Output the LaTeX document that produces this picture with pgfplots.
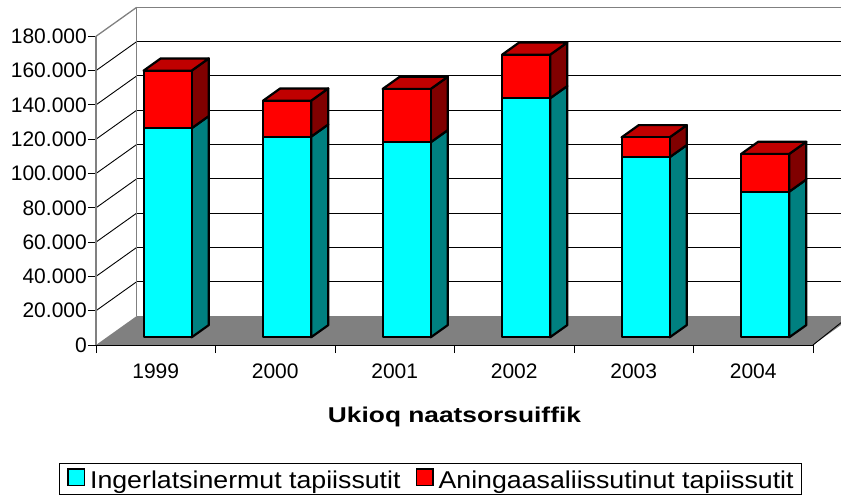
\documentclass[border=0pt]{standalone}
\usepackage{pgfplots}
\usepackage{pgfplotstable}
\pgfplotsset{compat=1.18}
\usepackage{fontspec}
\setmainfont{Liberation Sans}
\newfontfamily\titlefont[FakeStretch=1.23]{Liberation Sans}
\newfontfamily\legfont[FakeStretch=1.1]{Liberation Sans}
\definecolor{cyanF}{HTML}{00FFFF}
\definecolor{cyanS}{HTML}{008080}
\definecolor{redF}{HTML}{FF0000}
\definecolor{redS}{HTML}{800000}
\definecolor{redT}{HTML}{C00000}
\definecolor{floorG}{HTML}{808080}
\newcommand\lbl{\fontsize{21bp}{24bp}\selectfont}
% values in thousands
\pgfplotstableread{
idx cyan red
0 121.9 33.6
1 117.0 21.0
2 113.7 31.1
3 139.4 25.4
4 105.0 11.6
5 84.9 22.0
}\datatable
\def\DX{0.3406}\def\DY{16.9}
\def\BX{0.143}\def\BY{7.11}
\def\SX{0.0996}\def\SY{4.49}
\def\HW{0.201}
\pgfplotsset{
  barface/.style={draw=black, line width=2.2bp, line join=round, forget plot},
  thinl/.style={draw=black, line width=0.9bp, forget plot},
  grayl/.style={draw=floorG, line width=1.3bp, forget plot},
}
\begin{document}
\begin{tikzpicture}
\begin{axis}[
  at={(0,0)}, anchor=south west,
  x=119.5bp, y=1.715bp,
  xmin=-0.5, xmax=5.734, ymin=0, ymax=197.7,
  clip=false,
  axis lines*=left, axis line style={draw=none},
  tick align=outside, major tick length=8bp,
  tick style={black, line width=0.9bp},
  xtick={-0.5,0.5,...,5.5},
  xticklabels={1999,2000,2001,2002,2003,2004},
  x tick label as interval,
  ytick={0,20,...,180},
  yticklabels={0,20.000,40.000,60.000,80.000,100.000,120.000,140.000,160.000,180.000},
  tick label style={font=\lbl},
  yticklabel style={inner sep=1bp},
  xticklabel style={yshift=-7bp},
  xlabel={Ukioq naatsorsuiffik},
  xlabel style={font=\titlefont\bfseries\fontsize{21.4bp}{25bp}\selectfont, at={(axis description cs:0.4812,0)}, anchor=base, yshift=-77bp},
  legend columns=2,
  legend style={at={(axis description cs:0,0)}, anchor=north east, xshift=705.7bp, yshift=-118bp,
    draw=black, line width=1bp, font=\legfont\fontsize{24.3bp}{28bp}\selectfont,
    inner xsep=7.5bp, inner ysep=4.5bp,
    nodes={inner xsep=0bp, inner ysep=0bp},
    /tikz/every odd column/.append style={column sep=5bp},
    /tikz/every even column/.append style={column sep=15bp}},
  legend image code/.code={\draw[#1, draw=black, line width=1.5bp] (0bp,-4.5bp) rectangle (16.5bp,12bp);},
]
% floor
\addplot[fill=floorG, draw=none, forget plot] coordinates {(-0.5,0) (5.5,0) (5.8406,16.9) (-0.1594,16.9)} -- cycle;
\addplot[thinl] coordinates {(5.5,0) (5.734,13.0)};
% back wall gridlines and left wall diagonals
\pgfplotsforeachungrouped \v in {20,40,...,160}{%
  \pgfmathsetmacro\vb{\v+\DY}%
  \edef\temp{%
    \noexpand\addplot[thinl] coordinates {(-0.1594,\vb) (5.734,\vb)};
    \noexpand\addplot[thinl] coordinates {(-0.5,\v) (-0.1594,\vb)};
  }\temp
}
\addplot[grayl] coordinates {(-0.1594,196.9) (5.734,196.9)};
\addplot[grayl] coordinates {(-0.5,180) (-0.1594,196.9)};
\addplot[grayl] coordinates {(-0.1594,16.9) (-0.1594,196.9)};
\addplot[grayl] coordinates {(-0.5,0) (-0.5,180)};
% bars
\pgfplotsforeachungrouped \i in {0,...,5}{%
  \pgfplotstablegetelem{\i}{cyan}\of\datatable \let\vc\pgfplotsretval
  \pgfplotstablegetelem{\i}{red}\of\datatable \let\vr\pgfplotsretval
  \pgfmathsetmacro\xl{\i-\HW+\SX}%
  \pgfmathsetmacro\xr{\i+\HW+\SX}%
  \pgfmathsetmacro\xlb{\xl+\BX}%
  \pgfmathsetmacro\xrb{\xr+\BX}%
  \pgfmathsetmacro\yb{\SY}%
  \pgfmathsetmacro\yc{\SY+\vc}%
  \pgfmathsetmacro\yt{\SY+\vc+\vr}%
  \pgfmathsetmacro\ybb{\yb+\BY}%
  \pgfmathsetmacro\ycb{\yc+\BY}%
  \pgfmathsetmacro\ytb{\yt+\BY}%
  \edef\temp{%
    \noexpand\addplot[barface, fill=cyanS] coordinates {(\xr,\yb) (\xrb,\ybb) (\xrb,\ycb) (\xr,\yc)} -- cycle;
    \noexpand\addplot[barface, fill=redS] coordinates {(\xr,\yc) (\xrb,\ycb) (\xrb,\ytb) (\xr,\yt)} -- cycle;
    \noexpand\addplot[barface, fill=redT] coordinates {(\xl,\yt) (\xr,\yt) (\xrb,\ytb) (\xlb,\ytb)} -- cycle;
    \noexpand\addplot[barface, fill=cyanF] coordinates {(\xl,\yb) (\xr,\yb) (\xr,\yc) (\xl,\yc)} -- cycle;
    \noexpand\addplot[barface, fill=redF] coordinates {(\xl,\yc) (\xr,\yc) (\xr,\yt) (\xl,\yt)} -- cycle;
  }\temp
}
% front axis line
\addplot[draw=black, line width=1bp, forget plot] coordinates {(-0.5,0) (5.5,0)};
\addlegendimage{fill=cyanF}
\addlegendentry{Ingerlatsinermut tapiissutit}
\addlegendimage{fill=redF}
\addlegendentry{Aningaasaliissutinut tapiissutit}
\end{axis}
\pgfresetboundingbox
\path[use as bounding box] (-96bp,-155bp) rectangle (745bp,345bp);
\end{tikzpicture}
\end{document}
